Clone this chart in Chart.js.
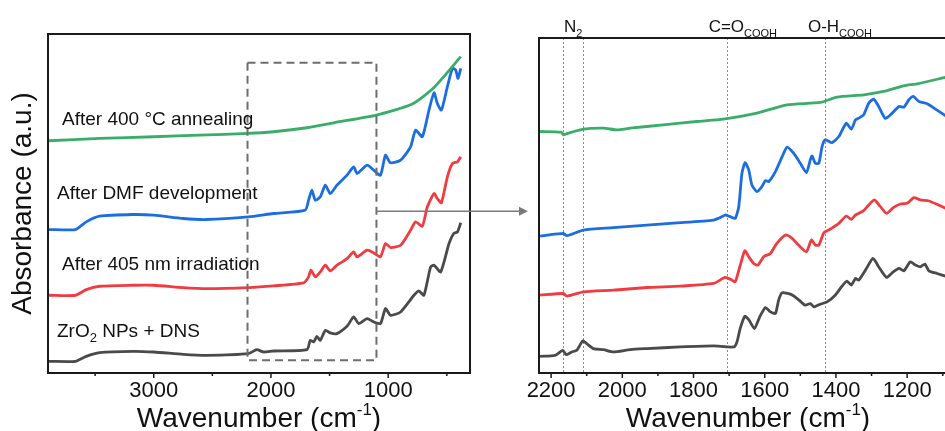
<!DOCTYPE html>
<html>
<head>
<meta charset="utf-8">
<script src="https://cdn.jsdelivr.net/npm/chart.js@4.4.1/dist/chart.umd.min.js"></script>
<style>
  html, body { margin: 0; padding: 0; overflow: hidden; background: #fff; }
  #wrap { position: relative; width: 945px; height: 431px; overflow: hidden; }
  #full { position: absolute; left: 0; top: 0; z-index: 2; }
  #zoomed { position: absolute; left: 480px; top: 0; z-index: 1; }
</style>
</head>
<body>
<div id="wrap">
  <canvas id="full" width="535" height="431"></canvas>
  <canvas id="zoomed" width="480" height="431"></canvas>
</div>
<script>
// full spectra (left panel), wavenumber in cm-1, absorbance offset in a.u.
const fullAnnealWn = [3896,3462,3000,2606,2193,1979,1693,1465,1100,795,609,381]
const fullAnneal = [69.6,70.3,70.8,71.3,71.8,72.3,73.5,75.0,77.3,80.6,85.6,94.8]

const fullDmfWn = [3896,3668,3576,3462,3177,3000,2749,2549,2193,1979,1708,1679,1651,1622,1579,1536,1494,1437,1351,1294,1265,1180,1123,1066,1023,980,894,809,766,709,652,609,581,546,495,452,424,404,381]
const fullDmf = [43.0,43.0,45.3,47.0,47.5,47.3,46.3,46.0,46.8,47.8,48.8,51.8,54.8,51.8,52.8,56.3,53.8,56.3,59.3,61.8,59.8,62.3,60.8,59.3,65.3,63.0,63.8,67.8,72.8,70.8,78.8,84.0,80.8,78.8,85.8,91.3,90.8,88.3,91.3]

const fullIrrWn = [3896,3668,3576,3462,3177,3000,2749,2549,2193,1979,1722,1679,1659,1622,1579,1536,1494,1437,1351,1294,1265,1180,1123,1066,1023,980,894,809,766,709,666,609,581,546,495,452,409,381]
const fullIrr = [23.3,23.3,25.0,26.0,26.3,26.3,25.6,25.3,25.6,26.1,27.0,28.8,30.8,28.8,30.3,32.3,30.6,32.3,34.3,36.3,34.8,36.8,36.0,34.8,38.8,37.6,38.3,42.8,45.3,44.0,49.8,53.8,52.3,51.0,58.8,62.8,63.3,64.8]

const fullBaseWn = [3896,3668,3576,3462,3177,3000,2749,2549,2193,2121,2064,1979,1693,1665,1636,1608,1579,1536,1494,1437,1351,1294,1251,1180,1123,1066,1023,980,894,780,738,695,638,609,552,481,441,409,381]
const fullBase = [3.5,3.5,5.0,6.1,6.5,6.3,5.6,5.3,5.8,7.0,6.3,6.6,7.0,9.8,9.3,11.0,9.8,12.8,12.0,11.8,14.0,16.8,14.8,16.3,15.3,14.8,19.3,17.3,18.3,23.3,24.6,23.3,31.8,32.3,30.3,38.8,41.8,42.3,45.0]

// zoomed region 2200-1100 (right panel)
const zoomAnnealWn = [2231,2172,2165,2158,2109,2053,2015,1978,1885,1791,1716,1622,1538,1444,1397,1322,1266,1210,1172,1093]
const zoomAnneal = [72.3,72.1,71.3,71.6,73.0,73.3,72.8,73.3,74.3,75.3,76.0,77.8,80.3,81.0,82.6,83.3,84.3,86.0,86.6,88.5]

const zoomDmfWn = [2231,2165,2156,2109,2025,1931,1837,1744,1730,1711,1697,1683,1673,1664,1655,1645,1636,1622,1608,1598,1589,1570,1551,1537,1519,1500,1483,1472,1467,1458,1448,1439,1430,1411,1392,1371,1357,1345,1336,1322,1308,1294,1280,1261,1242,1223,1209,1195,1183,1167,1144,1120,1092]
const zoomDmf = [41.0,41.8,41.1,42.8,43.5,44.3,45.0,45.8,46.3,47.3,46.8,46.3,49.8,59.8,63.0,60.8,56.3,54.3,55.8,57.6,57.3,60.3,64.8,67.6,65.8,62.8,60.0,63.8,65.0,62.8,62.8,67.8,69.8,69.0,70.8,74.8,73.0,75.8,76.3,77.3,80.8,82.0,79.8,76.2,77.8,79.8,79.6,81.8,82.8,81.3,80.6,79.0,77.0]

const zoomIrrWn = [2231,2165,2156,2109,2025,1931,1837,1744,1711,1695,1683,1670,1656,1645,1631,1619,1603,1584,1566,1542,1523,1505,1483,1469,1458,1448,1434,1420,1392,1371,1357,1345,1322,1308,1292,1275,1258,1238,1219,1200,1181,1163,1139,1116,1092]
const zoomIrr = [23.3,23.8,23.0,24.3,24.8,25.6,26.0,26.8,28.6,28.0,27.3,31.8,36.6,34.8,32.8,32.3,34.8,35.8,38.8,41.3,40.3,38.3,36.3,39.8,38.3,38.3,42.0,42.8,44.8,47.0,46.0,47.3,48.6,50.3,51.8,49.8,47.8,49.6,50.6,50.8,52.5,51.8,51.5,50.5,49.3]

const zoomBaseWn = [2231,2189,2167,2158,2142,2128,2111,2100,2081,2053,2025,1978,1931,1837,1744,1687,1678,1669,1656,1645,1629,1614,1598,1584,1570,1561,1551,1528,1509,1486,1472,1462,1444,1425,1402,1383,1369,1357,1345,1336,1317,1296,1280,1258,1242,1223,1209,1191,1177,1163,1150,1139,1116,1092]
const zoomBase = [5.0,5.3,6.8,5.5,6.3,6.8,9.6,8.8,7.3,7.0,6.3,7.0,7.3,7.8,8.1,7.8,9.3,13.3,17.0,16.0,13.3,16.8,19.6,18.3,17.8,21.8,24.0,23.6,22.3,20.3,20.8,19.8,20.6,21.3,23.3,26.0,27.5,26.3,28.3,27.8,30.8,34.3,31.8,28.6,30.0,31.3,30.6,33.3,32.3,31.8,32.6,30.6,29.8,29.0]

// axis ticks
const fullTicks = [3500, 3000, 2500, 2000, 1500, 1000, 500]
const zoomTicks = [2200, 2100, 2000, 1900, 1800, 1700, 1600, 1500, 1400, 1300, 1200, 1100]

// marked bands (cm-1)
const bandLines = [2166, 2110, 1707, 1431]
// zoom box on the full spectrum
const boxWn = [2200, 1100]
const boxAbs = [3.8, 93.0]
const arrowAbs = 48.5

const GREEN = '#3aad68'
const BLUE = '#1c6ee0'
const RED = '#f03c41'
const BLACK = '#4a4a4a'
const FONT = "'Liberation Sans', Arial, sans-serif"

const pts = (xs, ys) => xs.map((x, i) => ({ x: x, y: ys[i] }))

const line = (xs, ys, color) => ({
  data: pts(xs, ys),
  borderColor: color,
  borderWidth: 2.8,
  pointRadius: 0,
  tension: 0.2,
  fill: false
})

// draws a run of text pieces [text, size, dy] starting at x
const rich = (ctx, x, y, parts) => {
  let cx = x
  parts.forEach(p => {
    ctx.font = p[1] + 'px ' + FONT
    ctx.fillText(p[0], cx, y + (p[2] || 0))
    cx += ctx.measureText(p[0]).width
  })
  return cx - x
}
const richWidth = (ctx, parts) => {
  let w = 0
  parts.forEach(p => {
    ctx.font = p[1] + 'px ' + FONT
    w += ctx.measureText(p[0]).width
  })
  return w
}

const titleParts = [['Wavenumber (cm', 28], ['-1', 17, -12], [')', 28]]

const drawAxisBits = (chart, major) => {
  const { ctx, chartArea: a } = chart
  const xs = chart.scales.x
  ctx.save()
  ctx.strokeStyle = '#1a1a1a'
  ctx.lineWidth = 2
  ctx.strokeRect(a.left, a.top, a.right - a.left, a.bottom - a.top)
  ctx.lineWidth = 1.5
  ctx.beginPath()
  xs.ticks.forEach(t => {
    const px = xs.getPixelForValue(t.value)
    const len = t.value % major === 0 ? 5 : 3
    ctx.moveTo(px, a.bottom)
    ctx.lineTo(px, a.bottom + len)
  })
  ctx.stroke()
  ctx.fillStyle = '#111'
  ctx.textBaseline = 'alphabetic'
  const w = richWidth(ctx, titleParts)
  rich(ctx, (a.left + a.right) / 2 - w / 2, 427, titleParts)
  ctx.restore()
}

const fullDecor = {
  id: 'fullDecor',
  afterDraw(chart) {
    const { ctx, chartArea: a, scales } = chart
    drawAxisBits(chart, 1000)
    const x0 = scales.x.getPixelForValue(boxWn[0])
    const x1 = scales.x.getPixelForValue(boxWn[1])
    const y0 = scales.y.getPixelForValue(boxAbs[1])
    const y1 = scales.y.getPixelForValue(boxAbs[0])
    ctx.save()
    ctx.strokeStyle = '#6e6e6e'
    ctx.lineWidth = 2
    ctx.setLineDash([8, 5])
    ctx.strokeRect(x0, y0, x1 - x0, y1 - y0)
    ctx.setLineDash([])
    // arrow to the zoomed panel
    const ay = scales.y.getPixelForValue(arrowAbs)
    ctx.strokeStyle = '#7a7a7a'
    ctx.fillStyle = '#7a7a7a'
    ctx.lineWidth = 1.5
    ctx.beginPath()
    ctx.moveTo(x1, ay)
    ctx.lineTo(520, ay)
    ctx.stroke()
    ctx.beginPath()
    ctx.moveTo(528, ay)
    ctx.lineTo(519, ay - 4.5)
    ctx.lineTo(519, ay + 4.5)
    ctx.closePath()
    ctx.fill()
    // trace labels
    ctx.fillStyle = '#111'
    rich(ctx, 62, 125, [['After 400 \u00B0C annealing', 19]])
    rich(ctx, 57, 199, [['After DMF development', 19]])
    rich(ctx, 62, 270, [['After 405 nm irradiation', 19]])
    rich(ctx, 57, 337, [['ZrO', 19], ['2', 13, 5], [' NPs + DNS', 19]])
    // y title
    ctx.translate(31, (a.top + a.bottom) / 2)
    ctx.rotate(-Math.PI / 2)
    ctx.font = '28px ' + FONT
    ctx.textAlign = 'center'
    ctx.fillText('Absorbance (a.u.)', 0, 0)
    ctx.restore()
  }
}

const zoomDecor = {
  id: 'zoomDecor',
  beforeDatasetsDraw(chart) {
    const { ctx, chartArea: a, scales } = chart
    ctx.save()
    ctx.strokeStyle = '#8a8a8a'
    ctx.lineWidth = 1
    ctx.setLineDash([2, 2])
    bandLines.forEach(v => {
      const px = Math.round(scales.x.getPixelForValue(v)) + 0.5
      ctx.beginPath()
      ctx.moveTo(px, a.top)
      ctx.lineTo(px, a.bottom)
      ctx.stroke()
    })
    ctx.restore()
  },
  afterDraw(chart) {
    const { ctx, scales } = chart
    drawAxisBits(chart, 200)
    const p = bandLines.map(v => scales.x.getPixelForValue(v))
    ctx.save()
    ctx.fillStyle = '#111'
    const n2 = [['N', 17], ['2', 11, 5]]
    rich(ctx, (p[0] + p[1]) / 2 - richWidth(ctx, n2) / 2, 32, n2)
    rich(ctx, p[2] - 18, 32, [['C=O', 17], ['COOH', 11, 5]])
    rich(ctx, p[3] - 17, 32, [['O-H', 17], ['COOH', 11, 5]])
    ctx.restore()
  }
}

const makeOptions = (xmin, xmax, ymax, tickVals, major, pad) => ({
  responsive: false,
  animation: false,
  events: [],
  layout: { padding: pad },
  plugins: { legend: { display: false }, tooltip: { enabled: false } },
  scales: {
    x: {
      type: 'linear',
      reverse: true,
      min: xmin,
      max: xmax,
      grid: { display: false, drawTicks: false },
      border: { display: false },
      afterBuildTicks: s => { s.ticks = tickVals.map(v => ({ value: v })) },
      afterFit: s => { s.height = 58; s.paddingLeft = 0; s.paddingRight = 0 },
      ticks: {
        autoSkip: false,
        maxRotation: 0,
        minRotation: 0,
        padding: 5,
        color: '#111',
        font: { family: FONT, size: 22 },
        callback: v => (v % major === 0 ? String(v) : '')
      }
    },
    y: { display: false, min: 0, max: ymax }
  }
})

new Chart(document.getElementById('full'), {
  type: 'line',
  data: {
    datasets: [
      line(fullAnnealWn, fullAnneal, GREEN),
      line(fullDmfWn, fullDmf, BLUE),
      line(fullIrrWn, fullIrr, RED),
      line(fullBaseWn, fullBase, BLACK)
    ]
  },
  options: makeOptions(302, 3902, 101.6, fullTicks, 1000, { left: 48, right: 65, top: 34, bottom: 0 }),
  plugins: [fullDecor]
})

new Chart(document.getElementById('zoomed'), {
  type: 'line',
  data: {
    datasets: [
      line(zoomAnnealWn, zoomAnneal, GREEN),
      line(zoomDmfWn, zoomDmf, BLUE),
      line(zoomIrrWn, zoomIrr, RED),
      line(zoomBaseWn, zoomBase, BLACK)
    ]
  },
  options: makeOptions(1060, 2234, 100.3, zoomTicks, 200, { left: 59, right: 3, top: 38, bottom: 0 }),
  plugins: [zoomDecor]
})
</script>
</body>
</html>
